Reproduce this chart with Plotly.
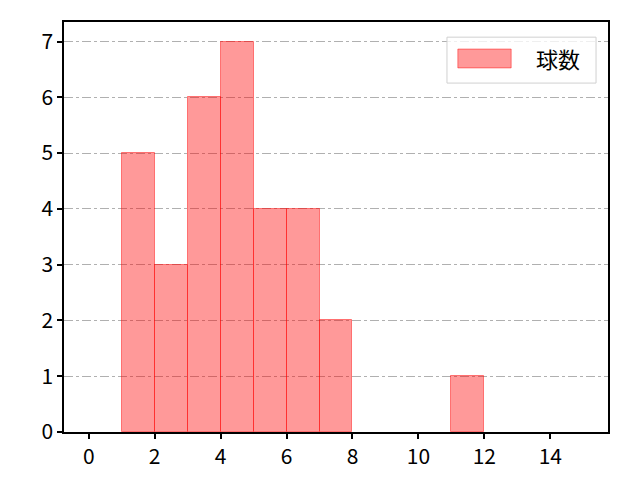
import plotly.graph_objects as go

bin_left = [1, 2, 3, 4, 5, 6, 7, 11]
counts = [5, 3, 6, 7, 4, 4, 2, 1]
series_name = "球数"
x_ticks = [0, 2, 4, 6, 8, 10, 12, 14]
y_ticks = [0, 1, 2, 3, 4, 5, 6, 7]

centers = [b + 0.5 for b in bin_left]
fill = "rgba(255,0,0,0.4)"
edge = "rgba(255,0,0,0.45)"

fig = go.Figure()
fig.add_trace(go.Bar(
    x=centers, y=counts, width=1, name=series_name,
    marker=dict(color=fill, line=dict(color=edge, width=1)),
    showlegend=False,
))

font = "Noto Sans CJK JP, DejaVu Sans, sans-serif"

# custom legend box (matplotlib style)
fig.add_shape(type="rect", xref="paper", yref="paper",
              x0=0.704, x1=0.978, y0=0.851, y1=0.963,
              line=dict(color="#d0d0d0", width=1), fillcolor="rgba(255,255,255,0.8)",
              layer="above")
fig.add_shape(type="rect", xref="paper", yref="paper",
              x0=0.724, x1=0.822, y0=0.888, y1=0.934,
              line=dict(color=edge, width=1), fillcolor=fill, layer="above")
fig.add_annotation(xref="paper", yref="paper", x=0.908, y=0.911,
                   text=series_name, showarrow=False, xanchor="center", yanchor="middle",
                   font=dict(size=22, family=font, color="black"))

fig.update_layout(
    width=640, height=480,
    margin=dict(l=56, r=40, t=14, b=56),
    paper_bgcolor="white", plot_bgcolor="white",
    font=dict(family=font, size=21, color="black"),
    bargap=0,
    showlegend=False,
    xaxis=dict(range=[-0.75, 15.75], tickvals=x_ticks, showgrid=False,
               tickfont=dict(size=21, family=font),
               showline=True, linecolor="black", linewidth=1.5, mirror=True,
               ticks="outside", ticklen=5, tickwidth=1.5, tickcolor="black", zeroline=False),
    yaxis=dict(range=[0, 7.35], tickvals=y_ticks, showgrid=True,
               tickfont=dict(size=21, family=font),
               gridcolor="#b0b0b0", griddash="dashdot", gridwidth=1,
               showline=True, linecolor="black", linewidth=1.5, mirror=True,
               ticks="outside", ticklen=5, tickwidth=1.5, tickcolor="black", zeroline=False),
)
fig.write_html("out.html")
